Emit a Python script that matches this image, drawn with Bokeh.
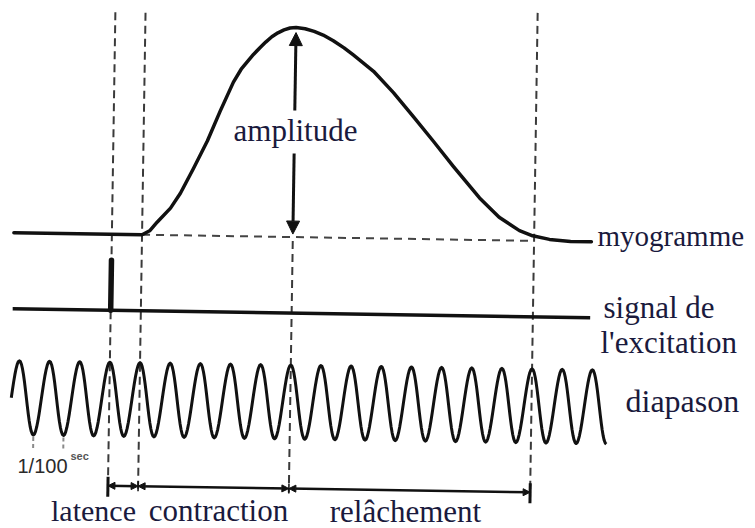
import math
from bokeh.plotting import figure
from bokeh.models import Range1d, Arrow, NormalHead
from bokeh.core.properties import value
from bokeh.embed import file_html
from bokeh.resources import INLINE

# ---------------- data (time in ms after the stimulus) ----------------
# myogram: height above the resting baseline (drawing units)
myo_t = [-32.5, 10, 12.5, 15, 19.3, 22.5, 26.7, 31.2, 35.3, 39.5, 42, 44.1, 46,
         48.2, 50, 52, 54, 56, 58, 60, 63, 66, 69, 72.4, 76, 79.1, 85.9, 92.6,
         99.4, 106.1, 112.9, 121.7, 128.3, 135.1, 139.5, 145.1, 152.1, 159]
myo_h = [0, 0, 4, 13, 27, 42, 67, 95, 125, 154, 167, 175, 182,
         189, 194.5, 200, 204, 207, 209, 209.5, 208.5, 206, 202.5, 197, 190, 183, 167, 146,
         122, 98, 73, 42, 23, 10, 5, 1.7, 0, 0]

stim_t = 0.0          # instant of the stimulation
stim_height = 50      # height of the excitation mark

# phases (ms): latence 10, contraction 50, relachement 80
phase_names = ["latence", "contraction", "relâchement"]
phase_bounds = [0, 10, 60, 140]

# tuning fork (100 Hz -> one period = 10 ms)
dia_peak_t = [-30, -20, -10, 0, 10, 20, 30, 40, 50, 60, 70, 80, 90, 100,
              110, 120, 130, 140, 150, 160]
dia_trough_t = [-35, -25, -15, -5, 5, 15, 25, 35, 45, 55, 65, 75, 85, 95,
                105, 115, 125, 135, 145, 155, 165]
dia_amp = 37
period_marks_t = [-25, -15]      # "1/100 sec" marks

trace_start, trace_end = -32.5, 159

# ---------------- layout ----------------
PX_PER_MS = 3.016
X0, Y0 = 111, 237                 # pixel of t=0 and of the myogram baseline
MYO_BASE, SIG_BASE, DIA_BASE, BAR_V = 0, -76, -165, -251.5
CX, CY = 320, 260
TH = math.radians(0.9)            # slight rotation of the scanned figure
C, S = math.cos(TH), math.sin(TH)
TXT_UP = 8                        # compensation of the svg text baseline


def tilt(ts, vs):
    ot, ov = [], []
    for t, v in zip(ts, vs):
        px = X0 + PX_PER_MS * t
        py = Y0 - v
        dx, dy = px - CX, py - CY
        qx = CX + dx * C - dy * S
        qy = CY + dx * S + dy * C
        ot.append((qx - X0) / PX_PER_MS)
        ov.append(Y0 - qy)
    return ot, ov


def scr(x, y):
    return (x - X0) / PX_PER_MS, Y0 - (y - TXT_UP)


W, H = 755, 528
p = figure(width=W, height=H, output_backend="svg", toolbar_location=None,
           x_range=Range1d((0 - X0) / PX_PER_MS, (W - X0) / PX_PER_MS),
           y_range=Range1d(Y0 - H, Y0), min_border=0)
p.axis.visible = False
p.grid.visible = False
p.outline_line_color = None
p.background_fill_color = "white"

INK = "#111111"
DASH = "#3a3a3a"

# ---- dashed guide lines ----
vx0, vy0, vx1, vy1 = [], [], [], []
tops = [222, 222, MYO_BASE - 4, 228]
for tb, top in zip(phase_bounds, tops):
    (a0, a1), (b0, b1) = tilt([tb, tb], [top, BAR_V - 4])
    vx0.append(a0); vx1.append(a1); vy0.append(b0); vy1.append(b1)
p.segment(vx0, vy0, vx1, vy1, line_color=DASH, line_width=2, line_dash="8 5")

(hx, hy) = tilt([phase_bounds[1], phase_bounds[3]], [MYO_BASE, MYO_BASE])
p.segment([hx[0]], [hy[0]], [hx[1]], [hy[1]], line_color="#444444", line_width=2,
          line_dash="8 6")

# ---- myogram ----
mx, my = tilt(myo_t, [MYO_BASE + h for h in myo_h])
p.line(mx, my, line_color=INK, line_width=3.5, line_join="round", line_cap="round")

# ---- amplitude arrow (broken by its label) ----
peak = max(myo_h)
lab_mid, lab_half = 105, 21.5
for v_from, v_to in [(MYO_BASE + lab_mid + lab_half, MYO_BASE + peak - 5),
                     (MYO_BASE + lab_mid - lab_half, MYO_BASE + 3)]:
    (ax, ay) = tilt([60, 60], [v_from, v_to])
    p.add_layout(Arrow(end=NormalHead(size=13, fill_color=INK, line_color=INK),
                       x_start=ax[0], y_start=ay[0], x_end=ax[1], y_end=ay[1],
                       line_color=INK, line_width=3))

# ---- excitation signal ----
sx, sy = tilt([trace_start, trace_end], [SIG_BASE, SIG_BASE])
p.line(sx, sy, line_color=INK, line_width=3.5)
kx, ky = tilt([stim_t, stim_t], [SIG_BASE, SIG_BASE + stim_height])
p.line(kx, ky, line_color=INK, line_width=5.5, line_cap="round")

# ---- tuning fork trace ----
ext = sorted([(t, 1) for t in dia_peak_t] + [(t, -1) for t in dia_trough_t])
dt_, dv_ = [], []
for (t0, s0), (t1, s1) in zip(ext[:-1], ext[1:]):
    n = 14
    for i in range(n):
        f = i / n
        t = t0 + (t1 - t0) * f
        lvl = s0 * (1 + math.cos(math.pi * f)) / 2 + s1 * (1 - math.cos(math.pi * f)) / 2
        if t >= trace_start:
            dt_.append(t); dv_.append(DIA_BASE + dia_amp * lvl)
dt_.append(ext[-1][0]); dv_.append(DIA_BASE + dia_amp * ext[-1][1])
wx, wy = tilt(dt_, dv_)
p.line(wx, wy, line_color=INK, line_width=3, line_join="round")

# "1/100 sec" marks under two troughs
pm0x, pm0y, pm1x, pm1y = [], [], [], []
for t in period_marks_t:
    (a, b) = tilt([t, t], [DIA_BASE - dia_amp - 2, DIA_BASE - dia_amp - 14])
    pm0x.append(a[0]); pm1x.append(a[1]); pm0y.append(b[0]); pm1y.append(b[1])
p.segment(pm0x, pm0y, pm1x, pm1y, line_color="#8a8a8a", line_width=2, line_dash="4 3")

# ---- phase bar with arrows ----
for t0, t1 in zip(phase_bounds[:-1], phase_bounds[1:]):
    (ax, ay) = tilt([t0, t1], [BAR_V, BAR_V])
    p.add_layout(Arrow(start=NormalHead(size=7, fill_color=INK, line_color=INK),
                       end=NormalHead(size=7, fill_color=INK, line_color=INK),
                       x_start=ax[0], y_start=ay[0], x_end=ax[1], y_end=ay[1],
                       line_color=INK, line_width=2.5))
tk0x, tk0y, tk1x, tk1y, tkw = [], [], [], [], []
for i, tb in enumerate(phase_bounds):
    big = i in (0, len(phase_bounds) - 1)
    half = 9 if big else 5
    (a, b) = tilt([tb, tb], [BAR_V + half, BAR_V - half - (2 if big else 0)])
    tk0x.append(a[0]); tk1x.append(a[1]); tk0y.append(b[0]); tk1y.append(b[1])
    tkw.append(3 if big else 1.5)
p.segment(tk0x, tk0y, tk1x, tk1y, line_color=INK, line_width=tkw)

# ---- labels ----
SERIF = value("Liberation Serif")
NAVY = "#1a1a3d"
labels = [
    ("amplitude", 295, 138, "center", 31),
    ("myogramme", 597, 243, "left", 29),
    ("signal de", 603, 315, "left", 31),
    ("l'excitation", 600, 350, "left", 31),
    ("diapason", 625, 408, "left", 32),
    (phase_names[0], 93, 518, "center", 30),
    (phase_names[1], 218, 518, "center", 31),
    (phase_names[2], 405, 519, "center", 31),
]
for txt, x, y, al, fs in labels:
    tx, ty = scr(x, y)
    p.text([tx], [ty], text=[txt], text_font=SERIF, text_font_size=f"{fs}px",
           text_color=NAVY, text_align=al, text_baseline="alphabetic")

tx, ty = scr(17, 473)
p.text([tx], [ty], text=["1/100"], text_font=value("Liberation Sans"),
       text_font_size="20px", text_color="#2a2a2a", text_align="left",
       text_baseline="alphabetic")
tx, ty = scr(70, 463)
p.text([tx], [ty], text=["sec"], text_font=value("Liberation Sans"),
       text_font_size="11px", text_font_style="bold", text_color="#555555",
       text_align="left", text_baseline="alphabetic")

open("out.html", "w").write(file_html(p, INLINE))
